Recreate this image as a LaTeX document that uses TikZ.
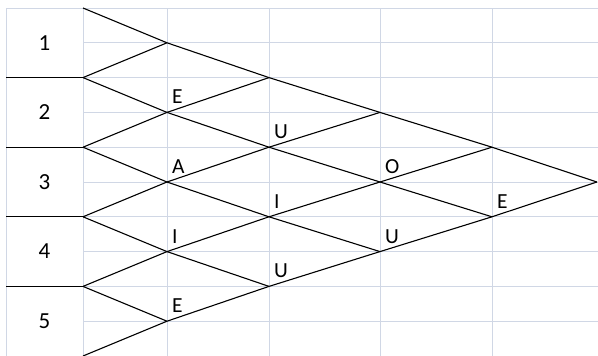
\documentclass[tikz,border=0pt]{standalone}
\usepackage{fontspec}
\setmainfont{Carlito}
\definecolor{gridc}{HTML}{D0D7E5}
\begin{document}
\begin{tikzpicture}[x=1pt,y=-1pt,
  gridline/.style={draw=gridc, line width=0.9pt},
  lat/.style={draw=black, line width=1.1pt, line join=round},
  sepline/.style={draw=black, line width=1.1pt},
  num/.style={font=\fontsize{23}{26}\selectfont, text=black, inner sep=0pt},
  vow/.style={font=\fontsize{21.5}{24}\selectfont, text=black, anchor=base west, inner sep=0pt}]
\useasboundingbox (0,0) rectangle (598,356);
\fill[white] (0,0) rectangle (598,356);
% vertices
\foreach \i/\x in {0/83,1/167,2/269,3/380,4/492,5/597} {
  \foreach \j in {0,...,10} {
    \coordinate (v\i-\j) at (\x, {8+34.8*\j});
  }
}
% grid
\draw[gridline] (6,8) -- (598,8);
\foreach \j in {1,...,9} { \draw[gridline] (83,{8+34.8*\j}) -- (598,{8+34.8*\j}); }
\foreach \x in {6,83,167,269,380,492} { \draw[gridline] (\x,8) -- (\x,356); }
% separators in label column
\foreach \j in {2,4,6,8} { \draw[sepline] (6,{8+34.8*\j}) -- (83,{8+34.8*\j}); }
% numbers
\foreach \k in {1,...,5} { \node[num] (n\k) at (44.5,{8+34.8*(2*\k-1)}) {\k}; }
% lattice
\draw[lat] (v0-0) -- (v1-1) -- (v2-2) -- (v3-3) -- (v4-4) -- (v5-5);
\draw[lat] (v0-2) -- (v1-3) -- (v2-4) -- (v3-5) -- (v4-6);
\draw[lat] (v0-4) -- (v1-5) -- (v2-6) -- (v3-7);
\draw[lat] (v0-6) -- (v1-7) -- (v2-8);
\draw[lat] (v0-8) -- (v1-9);
\draw[lat] (v0-10) -- (v1-9) -- (v2-8) -- (v3-7) -- (v4-6) -- (v5-5);
\draw[lat] (v0-8) -- (v1-7) -- (v2-6) -- (v3-5) -- (v4-4);
\draw[lat] (v0-6) -- (v1-5) -- (v2-4) -- (v3-3);
\draw[lat] (v0-4) -- (v1-3) -- (v2-2);
\draw[lat] (v0-2) -- (v1-1);
% vowels
\node[vow] (a1) at ([xshift=5pt,yshift=8.5pt]v1-3) {E};
\node[vow] (a2) at ([xshift=5pt,yshift=8.5pt]v2-4) {U};
\node[vow] (a3) at ([xshift=5pt,yshift=8.5pt]v1-5) {A};
\node[vow] (a4) at ([xshift=5pt,yshift=8.5pt]v3-5) {O};
\node[vow] (a5) at ([xshift=5pt,yshift=8.5pt]v2-6) {I};
\node[vow] (a6) at ([xshift=5pt,yshift=8.5pt]v4-6) {E};
\node[vow] (a7) at ([xshift=5pt,yshift=8.5pt]v1-7) {I};
\node[vow] (a8) at ([xshift=5pt,yshift=8.5pt]v3-7) {U};
\node[vow] (a9) at ([xshift=5pt,yshift=8.5pt]v2-8) {U};
\node[vow] (a10) at ([xshift=5pt,yshift=8.5pt]v1-9) {E};
\end{tikzpicture}
\end{document}
